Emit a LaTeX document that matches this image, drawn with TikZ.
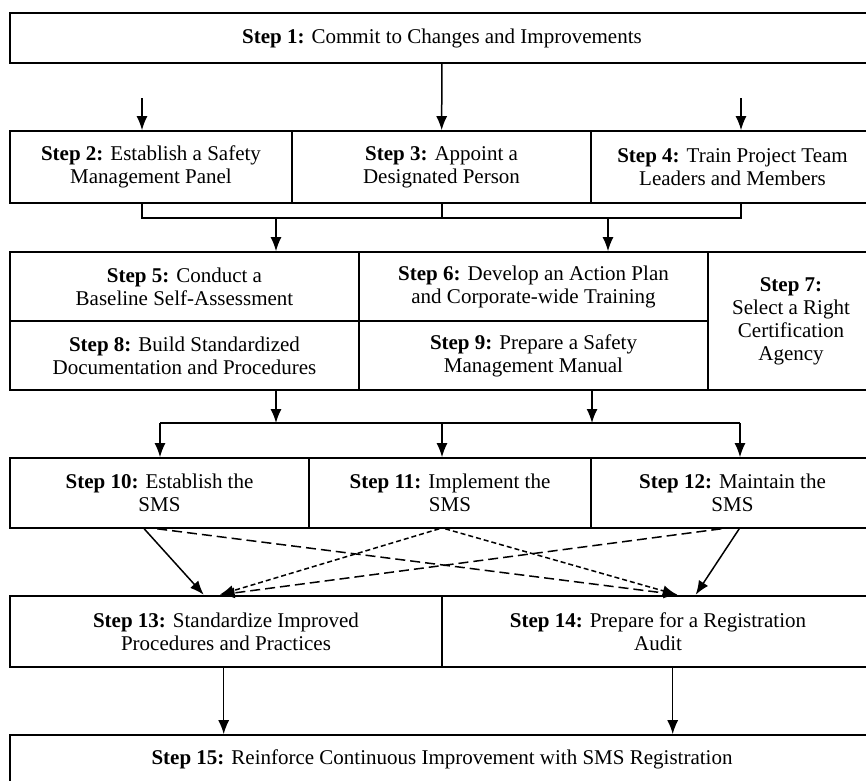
\documentclass[tikz,border=0pt]{standalone}
\usepackage{fontspec}
\setmainfont{Liberation Serif}
\usetikzlibrary{arrows.meta,calc}

\begin{document}
\begin{tikzpicture}[x=1pt,y=-1pt]
\tikzstyle{cell}=[rectangle, draw=black, line width=1.6pt, inner sep=0pt, align=center, font=\fontsize{21}{23}\selectfont]
\tikzstyle{connect}=[-{Latex[length=14pt,width=11pt]}, line width=1.5pt]
\tikzstyle{link}=[line width=1.5pt]
\tikzstyle{longdash}=[connect, dash pattern=on 10pt off 5pt]
\tikzstyle{shortdash}=[connect, dash pattern=on 5pt off 3pt]

\useasboundingbox (0,0) rectangle (866,780);

  % rows of steps
  \node[cell, minimum width=864, minimum height=50] (s1) at (442,38)   {\textbf{Step 1:} Commit to Changes and Improvements};

  \node[cell, minimum width=282, minimum height=72] (s2) at (151,167)   {\textbf{Step 2:} Establish a Safety\\Management Panel};
  \node[cell, minimum width=299, minimum height=72] (s3) at (441.5,167) {\textbf{Step 3:} Appoint a\\Designated Person};
  \node[cell, minimum width=283, minimum height=72] (s4) at (732.5,167) {\textbf{Step 4:} Train Project Team\\Leaders and Members};

  \node[cell, minimum width=349, minimum height=69] (s5) at (184.5,286.5) {\textbf{Step 5:} Conduct a\\Baseline Self-Assessment};
  \node[cell, minimum width=349, minimum height=69] (s6) at (533.5,286.5) {\textbf{Step 6:} Develop an Action Plan\\and Corporate-wide Training};
  \node[cell, minimum width=166, minimum height=138] (s7) at (791,321)   {\textbf{Step 7:}\\Select a Right\\Certification\\Agency};
  \node[cell, minimum width=349, minimum height=69] (s8) at (184.5,355.5) {\textbf{Step 8:} Build Standardized\\Documentation and Procedures};
  \node[cell, minimum width=349, minimum height=69] (s9) at (533.5,355.5) {\textbf{Step 9:} Prepare a Safety\\Management Manual};

  \node[cell, minimum width=299, minimum height=70] (s10) at (159.5,493) {\textbf{Step 10:} Establish the\\SMS};
  \node[cell, minimum width=282, minimum height=70] (s11) at (450,493)   {\textbf{Step 11:} Implement the\\SMS};
  \node[cell, minimum width=283, minimum height=70] (s12) at (732.5,493) {\textbf{Step 12:} Maintain the\\SMS};

  \node[cell, minimum width=432, minimum height=71, line width=2.6pt] (s13) at (226,631.5) {\textbf{Step 13:} Standardize Improved\\Procedures and Practices};
  \node[cell, minimum width=432, minimum height=71, line width=2.6pt] (s14) at (658,631.5) {\textbf{Step 14:} Prepare for a Registration\\Audit};

  \node[cell, minimum width=864, minimum height=48] (s15) at (442,759) {\textbf{Step 15:} Reinforce Continuous Improvement with SMS Registration};

  % step 1 to steps 2-4
  \coordinate (in2) at (142,98);
  \coordinate (in4) at (741,98);
  \path (s1) edge [connect] (s3);
  \path (in2) edge [connect] (in2 |- s2.north);
  \path (in4) edge [connect] (in4 |- s4.north);

  % steps 2-4 to steps 5-6
  \coordinate (b2) at (142,218);
  \coordinate (b3) at (442,218);
  \coordinate (b4) at (741,218);
  \coordinate (b5) at (276,218);
  \coordinate (b6) at (608,218);
  \draw[link] (b2 |- s2.south) -- (b2) -- (b4) -- (b4 |- s4.south);
  \draw[link] (b3 |- s3.south) -- (b3);
  \path (b5) edge [connect] (b5 |- s5.north);
  \path (b6) edge [connect] (b6 |- s6.north);

  % steps 8-9 to steps 10-12
  \coordinate (j8) at (276,423);
  \coordinate (j9) at (592,423);
  \coordinate (j10) at (160,423);
  \coordinate (j11) at (442,423);
  \coordinate (j12) at (740,423);
  \path (j8 |- s8.south) edge [connect] (j8);
  \path (j9 |- s9.south) edge [connect] (j9);
  \draw[link] (j10) -- (j12);
  \path (j10) edge [connect] (j10 |- s10.north);
  \path (j11) edge [connect] (j11 |- s11.north);
  \path (j12) edge [connect] (j12 |- s12.north);

  % steps 10-12 to steps 13-14
  \path ($(s10.south west)+(135,0)$) edge [connect]   ($(s13.north west)+(195,0)$);
  \path ($(s10.south west)+(148,0)$) edge [longdash]  ($(s14.north west)+(237,0)$);
  \path ($(s11.south west)+(131,0)$) edge [shortdash] ($(s13.north west)+(211,0)$);
  \path ($(s11.south west)+(137,0)$) edge [shortdash] ($(s14.north west)+(236,0)$);
  \path ($(s12.south west)+(131,0)$) edge [longdash]  ($(s13.north west)+(212,0)$);
  \path ($(s12.south west)+(149,0)$) edge [connect]   ($(s14.north west)+(255,0)$);

  % steps 13-14 to step 15
  \coordinate (d13) at ($(s13.south west)+(215,0)$);
  \coordinate (d14) at ($(s14.south west)+(232,0)$);
  \path (d13) edge [connect] (d13 |- s15.north);
  \path (d14) edge [connect] (d14 |- s15.north);

\end{tikzpicture}
\end{document}
